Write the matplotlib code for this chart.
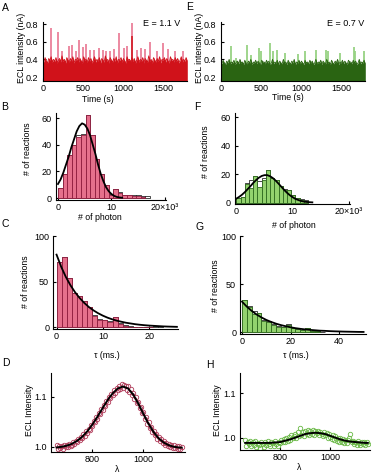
import numpy as np
import matplotlib
matplotlib.use("Agg")
import matplotlib.pyplot as plt

plt.rcParams['font.family'] = ['Liberation Sans', 'DejaVu Sans']

W, H = 374, 476

# ---- A / E : ECL time traces (upper edge of dense band every 15 s, spikes) ----
env_a = [0.40, 0.37, 0.42, 0.38, 0.36, 0.41, 0.39, 0.43, 0.37, 0.40,
         0.38, 0.42, 0.36, 0.39, 0.41, 0.37, 0.44, 0.38, 0.40, 0.36,
         0.42, 0.39, 0.37, 0.41, 0.38, 0.43, 0.36, 0.40, 0.39, 0.42,
         0.37, 0.41, 0.38, 0.36, 0.43, 0.39, 0.40, 0.37, 0.42, 0.38,
         0.41, 0.36, 0.39, 0.43, 0.37, 0.40, 0.38, 0.42, 0.36, 0.41,
         0.39, 0.37, 0.44, 0.38, 0.40, 0.36, 0.42, 0.39, 0.37, 0.41,
         0.38, 0.43, 0.36, 0.40, 0.39, 0.42, 0.37, 0.41, 0.38, 0.36,
         0.43, 0.39, 0.40, 0.37, 0.42, 0.38, 0.41, 0.36, 0.39, 0.43,
         0.37, 0.40, 0.38, 0.42, 0.36, 0.41, 0.39, 0.37, 0.44, 0.38,
         0.40, 0.36, 0.42, 0.39, 0.37, 0.41, 0.38, 0.43, 0.36, 0.40,
         0.39, 0.42, 0.37, 0.41, 0.38, 0.36, 0.43, 0.39, 0.40, 0.37,
         0.42, 0.38, 0.41, 0.36, 0.39, 0.43, 0.37, 0.40, 0.38, 0.42,
         0.39]
spike_a_t = [103, 186, 236, 327, 368, 414, 456, 497, 539, 589, 643, 704, 754, 787, 837,
             887, 953, 1011, 1053, 1106, 1176, 1218, 1272, 1334, 1426, 1500, 1562, 1645, 1741]
spike_a_h = [0.76, 0.71, 0.49, 0.55, 0.56, 0.50, 0.62, 0.54, 0.57, 0.51, 0.51, 0.53, 0.51, 0.50, 0.49,
             0.52, 0.70, 0.53, 0.55, 0.81, 0.51, 0.53, 0.52, 0.60, 0.49, 0.59, 0.52, 0.49, 0.50]
dark_spike_a_t = [1106]
dark_spike_a_h = [0.67]

env_e = [0.37, 0.35, 0.39, 0.36, 0.34, 0.38, 0.36, 0.40, 0.35, 0.37,
         0.36, 0.39, 0.34, 0.37, 0.38, 0.35, 0.40, 0.36, 0.37, 0.34,
         0.39, 0.36, 0.35, 0.38, 0.36, 0.40, 0.34, 0.37, 0.36, 0.39,
         0.35, 0.38, 0.36, 0.34, 0.39, 0.37, 0.37, 0.35, 0.39, 0.36,
         0.38, 0.34, 0.36, 0.40, 0.35, 0.37, 0.36, 0.39, 0.34, 0.38,
         0.36, 0.35, 0.40, 0.36, 0.37, 0.34, 0.39, 0.36, 0.35, 0.38,
         0.36, 0.40, 0.34, 0.37, 0.36, 0.39, 0.35, 0.38, 0.36, 0.34,
         0.39, 0.36, 0.37, 0.35, 0.39, 0.36, 0.38, 0.34, 0.36, 0.40,
         0.35, 0.37, 0.36, 0.39, 0.34, 0.38, 0.36, 0.35, 0.40, 0.36,
         0.37, 0.34, 0.39, 0.36, 0.35, 0.38, 0.36, 0.40, 0.34, 0.37,
         0.36, 0.39, 0.35, 0.38, 0.36, 0.34, 0.39, 0.37, 0.37, 0.35,
         0.39, 0.36, 0.38, 0.34, 0.36, 0.40, 0.35, 0.37, 0.36, 0.39,
         0.36]
spike_e_t = [132, 195, 332, 381, 473, 505, 610, 650, 705, 796, 961, 1052, 1189,
             1314, 1335, 1480, 1658, 1675, 1790]
spike_e_h = [0.55, 0.42, 0.56, 0.45, 0.53, 0.49, 0.585, 0.49, 0.51, 0.47, 0.46, 0.49, 0.51,
             0.51, 0.49, 0.47, 0.54, 0.49, 0.49]

# ---- B / F : photon-number histograms (x in 10^3) ----
bin_b = 0.86
hist_b = [7.5, 18, 32, 40, 46, 47, 62, 47, 29, 18, 9.5, 2.5, 6.5, 4, 2, 2, 1.5, 1.5, 1]
hist_b_bg = [7.5, 18, 32, 40, 47, 48, 62, 47, 29, 18, 10, 3, 7, 4.5, 2.5, 2.5, 2, 2, 1.5, 1.5]
fit_b_x = [0, 0.5, 1, 1.5, 2, 2.5, 3, 3.5, 4, 4.5, 5, 5.5, 6, 6.5, 7, 7.5, 8, 8.5, 9, 9.5,
           10, 10.5, 11, 11.5, 12]
fit_b_y = [10.5, 14, 19, 25, 31, 38, 44, 50, 54, 56, 55, 52, 47, 40, 33, 25, 18, 12.5, 8, 5,
           3, 1.6, 0.8, 0.4, 0.2]

bin_f = 0.75
hist_f = [3, 4, 13, 10, 19, 11, 16, 23, 17, 16, 12, 9, 9, 5, 3, 2, 1]
hist_f_bg = [3, 4, 14, 16, 19, 15, 17, 23, 17, 16, 12, 9.5, 9, 5.5, 3, 2.5, 1.5]
fit_f_x = [0, 0.5, 1, 1.5, 2, 2.5, 3, 3.5, 4, 4.5, 5, 5.5, 6, 6.5, 7, 7.5, 8, 8.5, 9, 9.5,
           10, 10.5, 11, 11.5, 12, 12.5, 13, 13.5]
fit_f_y = [2.8, 4.0, 5.5, 7.3, 9.4, 11.5, 13.8, 15.8, 17.5, 18.7, 19.3, 19.3, 18.5, 17.2,
           15.4, 13.3, 11.1, 8.9, 6.9, 5.2, 3.8, 2.6, 1.8, 1.15, 0.72, 0.44, 0.26, 0.15]

# ---- C / G : lifetime histograms (ms) ----
bin_c = 1.1
hist_c = [72, 77, 54, 38, 35, 29, 22, 13, 8, 8, 6, 11, 4, 2, 1, 1, 0.5, 0.5, 0.3]
hist_c_bg = [72, 77, 54, 38, 35, 29, 22, 14, 9, 8, 7, 11, 5, 3, 1.5, 1, 1, 0.5, 0.5, 1.5, 1.5]
fit_c_x = list(range(0, 27))
fit_c_y = [80, 66.7, 55.6, 46.4, 38.7, 32.3, 26.9, 22.4, 18.7, 15.6, 13.0, 10.8, 9.0, 7.5,
           6.3, 5.2, 4.4, 3.6, 3.0, 2.5, 2.1, 1.8, 1.5, 1.2, 1.0, 0.85, 0.7]

bin_g = 2.0
hist_g = [34, 26, 19, 20, 12, 11, 8, 6, 5, 8, 4, 3, 2, 4, 1, 1]
hist_g_bg = [34, 27, 22, 20, 13, 12, 9, 7, 6, 9, 4, 3, 2.5, 4.5, 1.5, 1, 0.5]
fit_g_x = list(range(0, 51, 2))
fit_g_y = [32, 26.7, 22.3, 18.6, 15.5, 12.9, 10.8, 9.0, 7.5, 6.3, 5.2, 4.3, 3.6, 3.0, 2.5,
           2.1, 1.7, 1.5, 1.2, 1.0, 0.85, 0.7, 0.6, 0.5, 0.4, 0.35]

# ---- D / H : spectra (points every 5 nm from 660 nm) ----
spec_d = [1.003, 0.996, 1.001, 0.997, 1.002, 0.996, 1.003, 0.999, 1.004, 1.000,
          1.006, 1.002, 1.004, 1.010, 1.006, 1.012, 1.009, 1.016, 1.013, 1.020,
          1.017, 1.025, 1.022, 1.031, 1.027, 1.036, 1.034, 1.043, 1.041, 1.051,
          1.049, 1.059, 1.056, 1.067, 1.065, 1.076, 1.073, 1.084, 1.081, 1.092,
          1.090, 1.100, 1.097, 1.106, 1.103, 1.113, 1.108, 1.118, 1.113, 1.122,
          1.115, 1.125, 1.117, 1.124, 1.121, 1.114, 1.121, 1.110, 1.115, 1.104,
          1.108, 1.096, 1.099, 1.087, 1.090, 1.077, 1.079, 1.067, 1.069, 1.056,
          1.059, 1.046, 1.049, 1.038, 1.040, 1.029, 1.032, 1.023, 1.026, 1.016,
          1.019, 1.011, 1.015, 1.007, 1.011, 1.004, 1.008, 1.001, 1.006, 0.999,
          1.004, 0.998, 1.003, 0.997, 1.002, 0.996, 1.001, 0.996, 1.000]
fit_d_x = [660, 680, 700, 720, 740, 760, 780, 800, 820, 840, 860, 880, 900, 920, 940,
           960, 980, 1000, 1020, 1040, 1060, 1080, 1100, 1120, 1140, 1150]
fit_d_y = [0.9985, 0.9998, 1.002, 1.0058, 1.0115, 1.0196, 1.0305, 1.044, 1.0598, 1.0767,
           1.093, 1.1067, 1.1162, 1.120, 1.1162, 1.104, 1.086, 1.0654, 1.0457, 1.0291,
           1.0166, 1.0081, 1.0028, 0.9998, 0.9983, 0.998]

spec_h = [0.995, 0.982, 0.990, 0.985, 0.993, 0.980, 0.989, 0.984, 0.992, 0.978,
          0.988, 0.983, 0.976, 0.991, 0.986, 0.979, 0.990, 0.984, 0.993, 0.985,
          0.981, 0.990, 0.987, 0.982, 0.992, 0.985, 0.980, 0.991, 0.987, 0.994,
          0.989, 0.997, 0.990, 0.999, 0.993, 1.002, 0.995, 1.006, 0.998, 1.004,
          1.009, 0.999, 1.012, 1.004, 1.022, 1.007, 1.013, 1.003, 1.015, 1.008,
          1.017, 1.006, 1.014, 1.009, 1.018, 1.007, 1.015, 1.010, 1.016, 1.005,
          1.013, 1.008, 1.003, 1.012, 1.005, 1.010, 1.000, 1.008, 1.002, 0.997,
          1.006, 0.995, 1.003, 0.993, 1.000, 0.991, 0.998, 0.990, 0.997, 0.988,
          0.995, 0.987, 0.994, 1.000, 1.008, 0.989, 0.993, 0.986, 0.991, 0.984,
          0.992, 0.987, 0.983, 0.990, 0.985, 0.991, 0.984, 0.989, 0.986]
fit_h_x = fit_d_x
fit_h_y = [0.988, 0.988, 0.988, 0.988, 0.988, 0.988, 0.989, 0.990, 0.993, 0.996, 1.000,
           1.004, 1.008, 1.010, 1.011, 1.010, 1.008, 1.004, 1.000, 0.996, 0.993, 0.991,
           0.990, 0.989, 0.988, 0.988]

RED_DARK, RED_LIGHT = '#d0121a', '#ea809a'
GRN_DARK, GRN_LIGHT = '#2a6412', '#97d283'
PINK_BAR, PINK_EDGE = '#e5708c', '#8e1c3e'
GRN_BAR, GRN_EDGE = '#93d26e', '#2f6a1e'

fig = plt.figure(figsize=(W / 100, H / 100), dpi=100)


def axes_px(l, t, r, b):
    return fig.add_axes([l / W, 1 - b / H, (r - l) / W, (b - t) / H])


def ftext(x, y, s, size=6.3, **kw):
    fig.text(x / W, 1 - y / H, s, ha='center', va='center', fontsize=size, **kw)


def style(ax):
    for s in ['top', 'right']:
        ax.spines[s].set_visible(False)
    for s in ['left', 'bottom']:
        ax.spines[s].set_linewidth(0.8)
    ax.tick_params(direction='in', length=2.5, width=0.8, labelsize=6.5, pad=2)
    ax.tick_params(axis='y', pad=3)
    ax.patch.set_alpha(0)


def trace(ax, env, st, sh, dark, light, dst=None, dsh=None):
    t = 15 * np.arange(len(env))
    ax.vlines(st, 0.36, sh, color=light, lw=1.3, zorder=1)
    ax.fill_between(t, 0.155, env, color=dark, lw=0, zorder=2)
    ax.plot(t, env, color=dark, lw=0.6, zorder=2)
    if dst is not None:
        ax.vlines(dst, 0.36, dsh, color=dark, lw=1.1, zorder=3)
    ax.set_xlim(0, 1800)
    ax.set_ylim(0.155, 0.85)
    ax.set_xticks([0, 500, 1000, 1500])
    ax.set_yticks([0.2, 0.4, 0.6, 0.8])
    ax.set_yticklabels(['0.2', '0.4', '0.6', '0.8'])
    ax.spines['left'].set_bounds(0.155, 0.82)
    style(ax)


def hist(ax, counts, bg, width, fill, edge, fx, fy):
    ax.bar(width * np.arange(len(bg)), bg, width, align='edge', color='white',
           edgecolor='black', lw=0.5, zorder=1)
    ax.bar(width * np.arange(len(counts)), counts, width, align='edge', color=fill,
           edgecolor=edge, lw=0.6, zorder=2)
    ax.plot(fx, fy, color='black', lw=1.3, zorder=3)
    style(ax)


# A
ax = axes_px(42.7, 19.6, 187.3, 81)
trace(ax, env_a, spike_a_t, spike_a_h, RED_DARK, RED_LIGHT, dark_spike_a_t, dark_spike_a_h)
ftext(162, 24, 'E = 1.1 V', size=6.5)
ftext(98, 99, 'Time (s)')
ftext(22, 48, 'ECL intensity (nA)', rotation=90)

# E
ax = axes_px(220.7, 19.6, 365.3, 81)
trace(ax, env_e, spike_e_t, spike_e_h, GRN_DARK, GRN_LIGHT)
ftext(346, 24, 'E = 0.7 V', size=6.5)
ftext(288, 98, 'Time (s)')
ftext(200, 48, 'ECL intensity (nA)', rotation=90)

# B
ax = axes_px(56.1, 110, 165.5, 200)
hist(ax, hist_b, hist_b_bg, bin_b, PINK_BAR, PINK_EDGE, fit_b_x, fit_b_y)
ax.set_xlim(-0.35, 20.1)
ax.set_ylim(-1.5, 66)
ax.set_xticks([0, 10, 20])
ax.set_xticklabels(['0', '10', '20×10³'])
ax.set_yticks([0, 20, 40, 60])
ax.spines['left'].set_bounds(-1.5, 64)
ftext(100, 218, '# of photon')
ftext(27, 149, '# of reactions', rotation=90)

# F
ax = axes_px(235.2, 113, 349.5, 204)
hist(ax, hist_f, hist_f_bg, bin_f, GRN_BAR, GRN_EDGE, fit_f_x, fit_f_y)
ax.set_xlim(-0.2, 20.1)
ax.set_ylim(-1, 63)
ax.set_xticks([0, 10, 20])
ax.set_xticklabels(['0', '10', '20×10³'])
ax.set_yticks([0, 20, 40, 60])
ftext(294, 226, '# of photon')
ftext(205, 152, '# of reactions', rotation=90)

# C
ax = axes_px(53.3, 235.5, 178.3, 329.3)
hist(ax, hist_c, hist_c_bg, bin_c, PINK_BAR, PINK_EDGE, fit_c_x, fit_c_y)
ax.set_xlim(-0.7, 26.3)
ax.set_ylim(-2, 101)
ax.set_xticks([0, 10, 20])
ax.set_yticks([0, 50, 100])
ftext(107, 355, 'τ (ms.)')
ftext(26, 282, '# of reactions', rotation=90)

# G
ax = axes_px(240.3, 235.5, 366, 334.2)
hist(ax, hist_g, hist_g_bg, bin_g, GRN_BAR, GRN_EDGE, fit_g_x, fit_g_y)
ax.set_xlim(-0.7, 51)
ax.set_ylim(-2, 101)
ax.set_xticks([0, 20, 40])
ax.set_yticks([0, 50, 100])
ftext(296, 356, 'τ (ms.)')
ftext(215, 286, '# of reactions', rotation=90)

# D
ax = axes_px(51, 373, 185, 452)
x_d = 660 + 5 * np.arange(len(spec_d))
ax.plot(x_d, spec_d, 'o', mfc='none', mec='#b03a58', mew=0.6, ms=3.2, zorder=2)
ax.plot(fit_d_x, fit_d_y, color='black', lw=1.4, zorder=3)
ax.set_xlim(638, 1163)
ax.set_ylim(0.9894, 1.147)
ax.set_xticks([800, 1000])
ax.set_yticks([1.0, 1.1])
ax.set_yticklabels(['1.0', '1.1'])
style(ax)
ftext(117, 469, 'λ')
ftext(30, 410, 'ECL Intensity', rotation=90)

# H
ax = axes_px(239.7, 373, 370.3, 450)
x_h = 660 + 5 * np.arange(len(spec_h))
ax.plot(x_h, spec_h, 'o', mfc='none', mec='#68b844', mew=0.6, ms=3.2, zorder=2)
ax.plot(fit_h_x, fit_h_y, color='black', lw=1.4, zorder=3)
ax.set_xlim(638, 1160)
ax.set_ylim(0.972, 1.146)
ax.set_xticks([800, 1000])
ax.set_yticks([1.0, 1.1])
ax.set_yticklabels(['1.0', '1.1'])
style(ax)
ftext(299, 468, 'λ')
ftext(217, 410, 'ECL Intensity', rotation=90)

# panel letters
for lab, x, y in [('A', 5, 8), ('E', 190, 7), ('B', 5, 107), ('F', 197, 107),
                  ('C', 5, 224), ('G', 200, 227), ('D', 5.5, 363), ('H', 210, 365)]:
    ftext(x, y, lab, size=7.5)

fig.savefig('out.png', dpi=100)
